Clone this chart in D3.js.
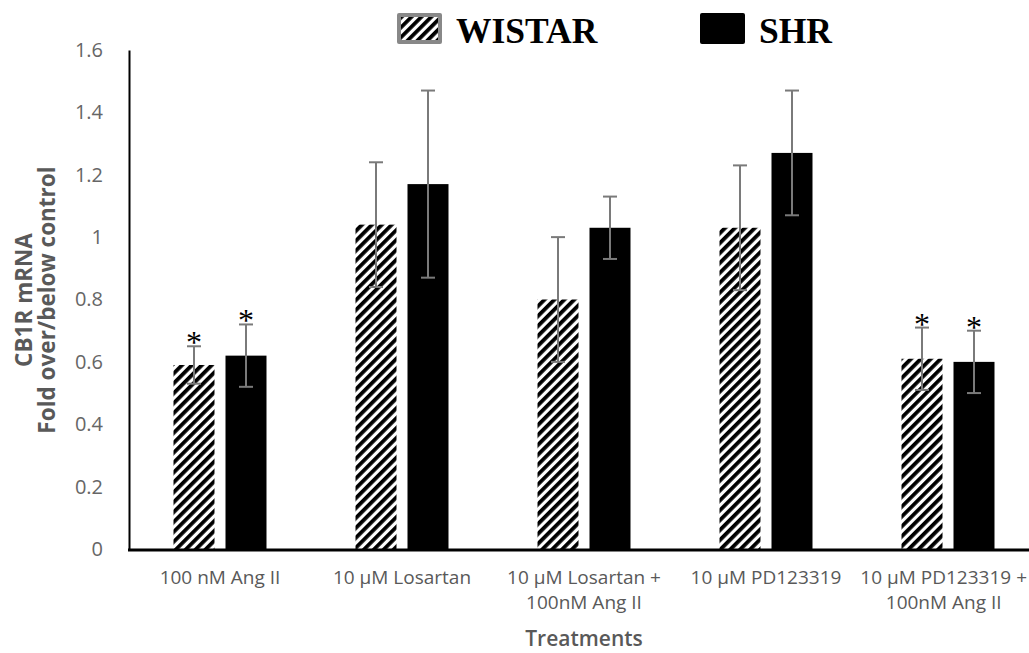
<!DOCTYPE html>
<html><head><meta charset="utf-8">
<script src="https://cdn.jsdelivr.net/npm/d3@7"></script>
<style>body{margin:0;background:#fff;}svg{display:block;}</style>
</head><body>
<script>
const categories = [["100 nM Ang II"],["10 µM Losartan"],["10 µM Losartan +","100nM Ang II"],["10 µM PD123319"],["10 µM PD123319 +","100nM Ang II"]];
const series = ["WISTAR","SHR"];
const wistarValues = [0.59, 1.04, 0.80, 1.03, 0.61];
const wistarErrors = [0.06, 0.20, 0.20, 0.20, 0.10];
const shrValues = [0.62, 1.17, 1.03, 1.27, 0.60];
const shrErrors = [0.10, 0.30, 0.10, 0.20, 0.10];
const significant = [true, false, false, false, true];
const yTicks = [0, 0.2, 0.4, 0.6, 0.8, 1, 1.2, 1.4, 1.6];

const W = 1029, H = 653;
const FONT = "Open Sans";
const svg = d3.select("body").append("svg").attr("width", W).attr("height", H);
const defs = svg.append("defs");
const pat = defs.append("pattern").attr("id","hatch").attr("patternUnits","userSpaceOnUse")
  .attr("width",7).attr("height",7).attr("patternTransform","rotate(45)");
pat.append("rect").attr("width",7).attr("height",7).attr("fill","#fff");
pat.append("rect").attr("x",0).attr("width",3.8).attr("height",7).attr("fill","#000");

const catKeys = categories.map(c => c.join(" "));
const x0 = d3.scaleBand().domain(catKeys).range([129, 129 + 5*182]);
const x1 = d3.scaleBand().domain(series).range([0, x0.bandwidth()]).paddingInner(0.2115).paddingOuter(0.856);
const y = d3.scaleLinear().domain([0, 1.6]).range([549, 50]);

const data = [];
catKeys.forEach((k,i) => {
  data.push({cat:k, s:"WISTAR", v:wistarValues[i], e:wistarErrors[i], sig:significant[i]});
  data.push({cat:k, s:"SHR", v:shrValues[i], e:shrErrors[i], sig:significant[i]});
});

// bars
svg.append("g").selectAll("rect").data(data).join("rect")
  .attr("x", d => x0(d.cat) + x1(d.s))
  .attr("y", d => y(d.v))
  .attr("width", x1.bandwidth())
  .attr("height", d => y(0) - y(d.v))
  .attr("fill", d => d.s === "WISTAR" ? "url(#hatch)" : "#000");

// error bars
const eg = svg.append("g").attr("stroke","#7a7a7a").attr("stroke-width",2);
data.forEach(d => {
  const cx = x0(d.cat) + x1(d.s) + x1.bandwidth()/2;
  eg.append("line").attr("x1",cx).attr("x2",cx).attr("y1",y(d.v+d.e)).attr("y2",y(d.v-d.e));
  eg.append("line").attr("x1",cx-7).attr("x2",cx+7).attr("y1",y(d.v+d.e)).attr("y2",y(d.v+d.e));
  eg.append("line").attr("x1",cx-7).attr("x2",cx+7).attr("y1",y(d.v-d.e)).attr("y2",y(d.v-d.e));
});

// asterisks
svg.append("g").selectAll("text").data(data.filter(d => d.sig)).join("text")
  .attr("x", d => x0(d.cat) + x1(d.s) + x1.bandwidth()/2)
  .attr("y", d => y(d.v+d.e) + 7)
  .attr("text-anchor","middle")
  .attr("font-family","Liberation Serif").attr("font-size",32).attr("fill","#000")
  .text("*");

// y axis
const yAxis = d3.axisLeft(y).tickValues(yTicks).tickSize(0).tickPadding(26)
  .tickFormat(d => d3.format("")(+d.toFixed(1)));
const ga = svg.append("g").attr("transform","translate(129,0)").call(yAxis);
ga.select(".domain").attr("stroke","#000").attr("stroke-width",2);
ga.selectAll("text").attr("font-family",FONT).attr("font-size",20).attr("fill","#666");

// x axis line
svg.append("line").attr("x1",128).attr("x2",W).attr("y1",550).attr("y2",550)
  .attr("stroke","#000").attr("stroke-width",3);

// category labels (kept inside the picture's right edge)
const cl = svg.append("g").attr("font-family",FONT).attr("font-size",19).attr("fill","#595959").attr("text-anchor","middle");
categories.forEach((c,i) => {
  const cx = x0(catKeys[i]) + x0.bandwidth()/2;
  const t = cl.append("text").attr("x", cx).attr("y",584);
  c.forEach((line,j) => t.append("tspan").attr("x", cx).attr("dy", j===0?0:25).text(line));
  const bb = t.node().getBBox();
  const over = bb.x + bb.width - (W - 2);
  if (over > 0) t.selectAll("tspan").attr("x", cx - over);
});

// x title
svg.append("text").attr("x",584).attr("y",646).attr("text-anchor","middle")
  .attr("font-family",FONT).attr("font-size",21).attr("font-weight",600).attr("fill","#595959").text("Treatments");

// y title
const yt = svg.append("text").attr("transform","translate(0,300) rotate(-90)")
  .attr("text-anchor","middle").attr("font-family",FONT).attr("font-size",22.5).attr("font-weight","bold").attr("fill","#595959");
yt.append("tspan").attr("x",0).attr("y",32).text("CB1R mRNA");
yt.append("tspan").attr("x",0).attr("y",55).text("Fold over/below control");

// legend
const lg = svg.append("g");
const legendItems = [{s:"WISTAR", x:397, fill:"url(#hatch)"},{s:"SHR", x:700, fill:"#000"}];
legendItems.forEach(d => {
  lg.append("rect").attr("x",d.x).attr("y",13).attr("width",45).attr("height",31).attr("rx",2)
    .attr("fill", d.s==="WISTAR" ? "#888" : "#000");
  if (d.s==="WISTAR") lg.append("rect").attr("x",d.x+4).attr("y",17).attr("width",37).attr("height",23).attr("fill",d.fill);
  lg.append("text").attr("x", d.x + 59).attr("y",43).attr("font-family","Liberation Serif")
    .attr("font-weight","bold").attr("font-size",35.5).attr("fill","#000").text(d.s);
});
</script>
</body></html>
